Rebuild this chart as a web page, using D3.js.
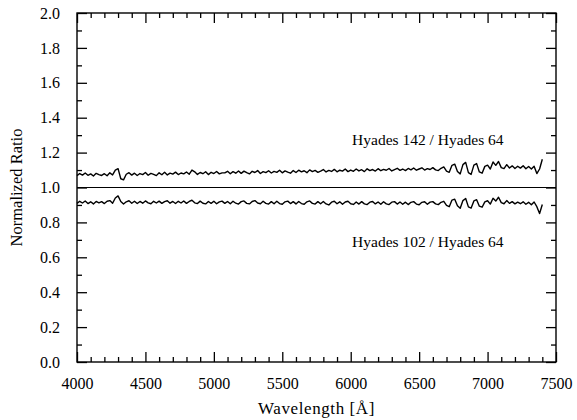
<!DOCTYPE html>
<html>
<head>
<meta charset="utf-8">
<script src="https://cdn.jsdelivr.net/npm/d3@7"></script>
<style>
  html, body { margin: 0; padding: 0; background: #fff; }
  svg { display: block; }
  text { font-family: "Liberation Serif", "DejaVu Serif", serif; fill: #000; }
  .axis path { display: none; }
  .axis line { stroke: #000; stroke-width: 1.3; }
  .axis text { font-size: 16px; }
</style>
</head>
<body>
<svg id="chart" width="577" height="420"></svg>
<script>
/* ---------- data ---------- */
const wavelength = [
  4000,4020,4040,4060,4080,4100,4120,4140,4160,4180,
  4200,4220,4240,4260,4280,4300,4320,4340,4360,4380,
  4400,4420,4440,4460,4480,4500,4520,4540,4560,4580,
  4600,4620,4640,4660,4680,4700,4720,4740,4760,4780,
  4800,4820,4840,4860,4880,4900,4920,4940,4960,4980,
  5000,5020,5040,5060,5080,5100,5120,5140,5160,5180,
  5200,5220,5240,5260,5280,5300,5320,5340,5360,5380,
  5400,5420,5440,5460,5480,5500,5520,5540,5560,5580,
  5600,5620,5640,5660,5680,5700,5720,5740,5760,5780,
  5800,5820,5840,5860,5880,5900,5920,5940,5960,5980,
  6000,6020,6040,6060,6080,6100,6120,6140,6160,6180,
  6200,6220,6240,6260,6280,6300,6320,6340,6360,6380,
  6400,6420,6440,6460,6480,6500,6520,6540,6560,6580,
  6600,6620,6640,6660,6680,6700,6720,6740,6760,6780,
  6800,6820,6840,6860,6880,6900,6920,6940,6960,6980,
  7000,7020,7040,7060,7080,7100,7120,7140,7160,7180,
  7200,7220,7240,7260,7280,7300,7320,7340,7360,7380,
  7400
];

// Hyades 142 / Hyades 64
const ratio142 = [
  1.068,1.080,1.071,1.083,1.070,1.078,1.066,1.081,1.074,1.069,
  1.079,1.067,1.084,1.072,1.100,1.108,1.050,1.044,1.076,1.085,
  1.071,1.082,1.069,1.080,1.074,1.086,1.070,1.081,1.075,1.068,
  1.084,1.073,1.087,1.072,1.082,1.077,1.088,1.074,1.083,1.078,
  1.089,1.076,1.100,1.090,1.075,1.086,1.079,1.090,1.074,1.087,
  1.080,1.092,1.078,1.084,1.084,1.093,1.079,1.091,1.082,1.095,
  1.081,1.094,1.085,1.078,1.093,1.086,1.097,1.080,1.091,1.085,
  1.096,1.083,1.092,1.087,1.099,1.084,1.095,1.088,1.082,1.097,
  1.086,1.099,1.090,1.096,1.085,1.101,1.091,1.098,1.087,1.094,
  1.103,1.089,1.098,1.092,1.104,1.090,1.099,1.094,1.106,1.091,
  1.100,1.093,1.106,1.095,1.102,1.091,1.107,1.097,1.103,1.094,
  1.108,1.096,1.104,1.099,1.109,1.095,1.103,1.110,1.098,1.106,
  1.097,1.109,1.101,1.112,1.099,1.106,1.113,1.100,1.108,1.103,
  1.114,1.101,1.097,1.110,1.118,1.094,1.087,1.127,1.134,1.092,
  1.078,1.131,1.144,1.085,1.075,1.128,1.137,1.089,1.082,1.121,
  1.128,1.106,1.146,1.127,1.149,1.114,1.108,1.131,1.112,1.124,
  1.109,1.122,1.111,1.125,1.107,1.120,1.106,1.122,1.080,1.106,
  1.162
];

// Hyades 102 / Hyades 64
const ratio102 = [
  0.909,0.921,0.911,0.923,0.908,0.918,0.906,0.920,0.912,0.919,
  0.908,0.921,0.925,0.910,0.940,0.952,0.920,0.905,0.918,0.924,
  0.910,0.921,0.908,0.920,0.910,0.923,0.912,0.907,0.921,0.911,
  0.922,0.909,0.919,0.924,0.910,0.920,0.908,0.921,0.911,0.923,
  0.909,0.920,0.927,0.912,0.908,0.922,0.910,0.906,0.920,0.909,
  0.921,0.907,0.918,0.922,0.909,0.920,0.907,0.921,0.910,0.905,
  0.919,0.923,0.909,0.906,0.920,0.925,0.911,0.907,0.921,0.909,
  0.905,0.919,0.907,0.921,0.908,0.904,0.918,0.922,0.908,0.919,
  0.906,0.920,0.908,0.904,0.918,0.923,0.909,0.905,0.919,0.907,
  0.920,0.906,0.900,0.916,0.921,0.907,0.918,0.904,0.917,0.921,
  0.907,0.903,0.917,0.905,0.919,0.906,0.902,0.916,0.920,0.906,
  0.917,0.904,0.918,0.906,0.902,0.916,0.919,0.905,0.917,0.904,
  0.916,0.902,0.915,0.919,0.905,0.901,0.915,0.918,0.904,0.916,
  0.919,0.906,0.902,0.915,0.921,0.898,0.890,0.928,0.933,0.895,
  0.881,0.925,0.937,0.889,0.882,0.923,0.930,0.893,0.887,0.918,
  0.924,0.905,0.938,0.922,0.944,0.913,0.907,0.925,0.909,0.919,
  0.906,0.916,0.907,0.918,0.904,0.915,0.901,0.917,0.890,0.851,
  0.903
];

const xMajor = [4000,4500,5000,5500,6000,6500,7000,7500];
const xMinor = [4100,4200,4300,4400,4600,4700,4800,4900,5100,5200,5300,5400,
                5600,5700,5800,5900,6100,6200,6300,6400,6600,6700,6800,6900,
                7100,7200,7300,7400];
const yMajor = [0.0,0.2,0.4,0.6,0.8,1.0,1.2,1.4,1.6,1.8,2.0];
const yMinor = [0.1,0.3,0.5,0.7,0.9,1.1,1.3,1.5,1.7,1.9];

const labels = [
  {text: "Hyades 142 / Hyades 64", wl: 6010, v: 1.245},
  {text: "Hyades 102 / Hyades 64", wl: 6010, v: 0.66}
];

/* ---------- geometry ---------- */
const W = 577, H = 420;
const M = {left: 77, right: 21, top: 13, bottom: 58};
const iw = W - M.left - M.right, ih = H - M.top - M.bottom;

const svg = d3.select("#chart");
const g = svg.append("g").attr("transform", `translate(${M.left},${M.top})`);

const x = d3.scaleLinear().domain([4000, 7500]).range([0, iw]);
const y = d3.scaleLinear().domain([0, 2]).range([ih, 0]);

/* ---------- ticks (all inward) ---------- */
const MAJ = 10, MIN = 5;
function addAxis(gen, vals, size, tr, showLabels){
  return g.append("g").attr("class", "axis").attr("transform", tr)
    .call(gen.tickValues(vals).tickSize(size).tickSizeOuter(0)
             .tickFormat(showLabels ? null : ""));
}
// bottom
const bx = addAxis(d3.axisBottom(x), xMajor, -MAJ, `translate(0,${ih})`, true);
bx.selectAll("text").attr("y", 16).attr("dy", "0.71em").text(d => d);
addAxis(d3.axisBottom(x), xMinor, -MIN, `translate(0,${ih})`, false);
// top
addAxis(d3.axisTop(x), xMajor, -MAJ, "translate(0,0)", false);
addAxis(d3.axisTop(x), xMinor, -MIN, "translate(0,0)", false);
// left
const ly = addAxis(d3.axisLeft(y), yMajor, -MAJ, "translate(0,0)", true);
ly.selectAll("text").attr("x", -17).text(d => d3.format(".1f")(d));
addAxis(d3.axisLeft(y), yMinor, -MIN, "translate(0,0)", false);
// right
addAxis(d3.axisRight(y), yMajor, -MAJ, `translate(${iw},0)`, false);
addAxis(d3.axisRight(y), yMinor, -MIN, `translate(${iw},0)`, false);

// frame
g.append("rect").attr("width", iw).attr("height", ih)
  .attr("fill", "none").attr("stroke", "#000").attr("stroke-width", 1.4);

/* ---------- reference line at 1.0 ---------- */
g.append("line")
  .attr("x1", 0).attr("x2", iw)
  .attr("y1", y(1)).attr("y2", y(1))
  .attr("stroke", "#000").attr("stroke-width", 1.1);

/* ---------- spectra ---------- */
const line = d3.line().x(d => x(d[0])).y(d => y(d[1]));
[ratio142, ratio102].forEach(series => {
  g.append("path")
    .datum(wavelength.map((w, i) => [w, series[i]]))
    .attr("fill", "none").attr("stroke", "#000")
    .attr("stroke-width", 1.4).attr("stroke-linejoin", "round")
    .attr("d", line);
});

/* ---------- annotations ---------- */
g.selectAll("text.lab").data(labels).join("text")
  .attr("class", "lab")
  .attr("x", d => x(d.wl)).attr("y", d => y(d.v))
  .attr("font-size", 15.5)
  .text(d => d.text);

/* ---------- axis titles ---------- */
svg.append("text")
  .attr("x", M.left + iw / 2).attr("y", 414)
  .attr("text-anchor", "middle").attr("font-size", 17)
  .attr("letter-spacing", 0.6)
  .text("Wavelength [Å]");

svg.append("text")
  .attr("transform", `translate(22,${M.top + ih / 2}) rotate(-90)`)
  .attr("text-anchor", "middle").attr("font-size", 16.5)
  .text("Normalized Ratio");
</script>
</body>
</html>
